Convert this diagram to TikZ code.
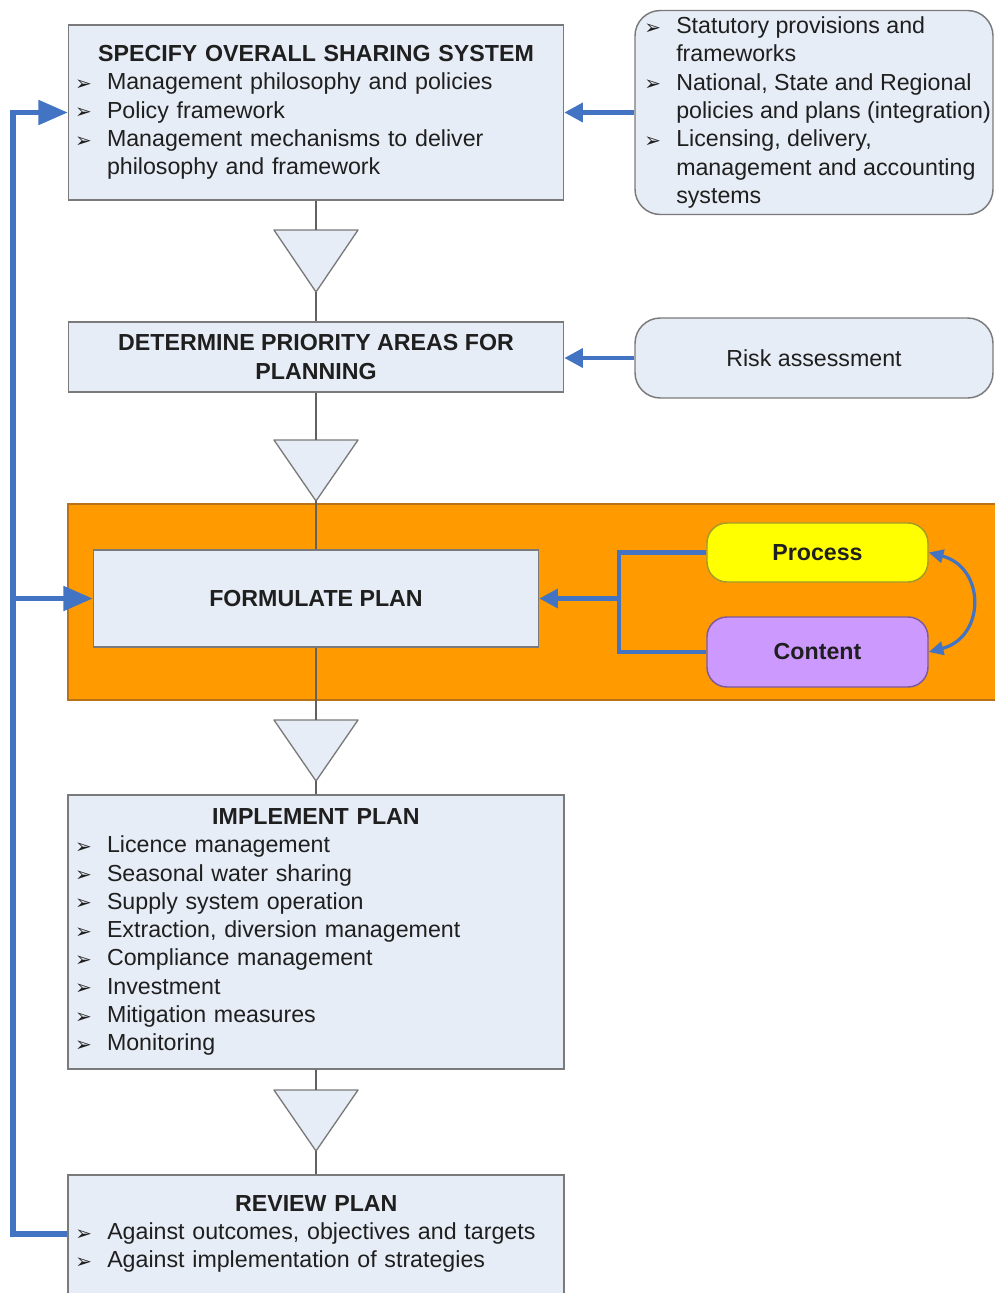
\documentclass[tikz,border=0pt]{standalone}
\usepackage{fontspec}
\setmainfont{Liberation Sans}
\newfontfamily\dvfont{DejaVu Sans}
\usetikzlibrary{arrows.meta,calc}
\newlength\upx \setlength\upx{0.75pt}
\definecolor{boxfill}{HTML}{E7EDF6}
\definecolor{boxline}{HTML}{7A7A7A}
\definecolor{flowblue}{HTML}{4374C3}
\definecolor{bandorange}{HTML}{FF9A00}
\definecolor{bandline}{HTML}{B87319}
\definecolor{txt}{HTML}{1F1F1F}
\definecolor{procyellow}{HTML}{FFFF00}
\definecolor{procline}{HTML}{A39B2A}
\definecolor{contviolet}{HTML}{CC99FF}
\definecolor{contline}{HTML}{7D5A9E}
\newcommand\bul{\makebox[24pt][l]{\dvfont\fontsize{15}{15}\selectfont\raisebox{-0.5pt}{➢}}}
\newcommand\ind{\makebox[24pt]{}}
\begin{document}
\begin{tikzpicture}[x=0.75pt,y=-0.75pt,
  every node/.style={font=\fontsize{17.4}{21.2}\selectfont, text=txt},
  bf/.style={font=\fontsize{17.4}{21.2}\selectfont\bfseries},
  box/.style={draw=boxline, fill=boxfill, line width=1.1pt, inner sep=0pt},
  rbox/.style={box, rounded corners=19pt},
  pill/.style={line width=1.1pt, rounded corners=15pt, inner sep=0pt, minimum width=221\upx, bf},
  tri/.style={draw=boxline, fill=boxfill, line width=1pt, line join=round},
  conn/.style={draw=black!62, line width=0.9pt},
  feed/.style={draw=flowblue, line width=3.8pt},
  feedarrow/.style={feed, -{Triangle[length=22pt,width=18pt]}},
  inarrow/.style={draw=flowblue, line width=3.4pt, -{Triangle[length=14pt,width=14pt]}},
  cycarrow/.style={draw=flowblue, line width=2.4pt, {Triangle[length=11pt,width=10pt]}-{Triangle[length=11pt,width=10pt]}}
]
\useasboundingbox (0,0) rectangle (995,1293);
\clip (0,0) rectangle (995,1293);

% orange band
\node[draw=bandline, fill=bandorange, line width=1pt, minimum width=932\upx, minimum height=196\upx, inner sep=0pt] (band) at (534,602) {};

% boxes
\node[box, minimum width=495\upx, minimum height=175\upx, text width=482\upx, align=left] (spec) at (316,112.5)
 {\makebox[482\upx][c]{\bfseries SPECIFY OVERALL SHARING SYSTEM}\\
  \bul Management philosophy and policies\\
  \bul Policy framework\\
  \bul Management mechanisms to deliver\\
  \ind philosophy and framework};

\node[rbox, minimum width=358\upx, minimum height=204\upx] (stat) at (814,112.5) {};
\node[anchor=west, align=left, inner sep=0pt] (statt) at (644,112.5)
 {\bul Statutory provisions and\\
  \ind frameworks\\
  \bul National, State and Regional\\
  \ind policies and plans (integration)\\
  \bul Licensing, delivery,\\
  \ind management and accounting\\
  \ind systems};

\node[box, bf, minimum width=495\upx, minimum height=70\upx, align=center] (det) at (316,357) {DETERMINE PRIORITY AREAS FOR\\PLANNING};
\node[rbox, minimum width=358\upx, minimum height=80\upx] (risk) at (814,358) {Risk assessment};

\node[box, bf, minimum width=445\upx, minimum height=97\upx] (form) at (316,598.5) {FORMULATE PLAN};
\node[pill, draw=procline, fill=procyellow, minimum height=59\upx] (proc) at (817.5,552.5) {Process};
\node[pill, draw=contline, fill=contviolet, minimum height=70\upx] (cont) at (817.5,652) {Content};

\node[box, minimum width=496\upx, minimum height=274\upx, text width=482\upx, align=left] (impl) at (316,932)
 {\makebox[482\upx][c]{\bfseries IMPLEMENT PLAN}\\
  \bul Licence management\\
  \bul Seasonal water sharing\\
  \bul Supply system operation\\
  \bul Extraction, diversion management\\
  \bul Compliance management\\
  \bul Investment\\
  \bul Mitigation measures\\
  \bul Monitoring};

\node[box, minimum width=496\upx, minimum height=124\upx] (rev) at (316,1237) {};
\node[anchor=west, text width=482\upx, align=left, inner sep=0pt] (revt) at (75,1234)
 {\makebox[482\upx][c]{\bfseries REVIEW PLAN}\\
  \bul Against outcomes, objectives and targets\\
  \bul Against implementation of strategies};

% flow triangles
\coordinate (t1top) at (316,230); \coordinate (t1tip) at (316,292);
\coordinate (t2top) at (316,440); \coordinate (t2tip) at (316,501);
\coordinate (t3top) at (316,720); \coordinate (t3tip) at (316,781);
\coordinate (t4top) at (316,1090); \coordinate (t4tip) at (316,1151);
\foreach \t in {t1,t2,t3,t4}{
  \draw[tri] ($(\t top)+(-42,0)$) -- ($(\t top)+(42,0)$) -- (\t tip) -- cycle;
}

% thin connectors
\draw[conn] (spec.south) -- (t1top);
\draw[conn] (t1tip) -- (det.north);
\draw[conn] (det.south) -- (t2top);
\draw[conn] (t2tip) -- (form.north);
\draw[conn] (form.south) -- (t3top);
\draw[conn] (t3tip) -- (impl.north);
\draw[conn] (impl.south) -- (t4top);
\draw[conn] (t4tip) -- (rev.north);

% inputs from right
\draw[inarrow] (stat.west) -- (stat.west -| spec.east);
\draw[inarrow] (risk.west) -- (risk.west -| det.east);

% process/content bracket
\coordinate (brk) at (619,598.5);
\draw[feed, line width=3.2pt] (proc.west) -- (proc.west -| brk) -- (cont.west -| brk) -- (cont.west);
\draw[inarrow] (brk) -- (form.east);
\draw[cycarrow] (proc.east) .. controls +(57,15) and +(57,-15) .. (cont.east);

% feedback loop
\coordinate (ftop) at (13,112.5);
\coordinate (fmid) at (13,598.5);
\coordinate (fbot) at (rev.west |- revt.west);
\draw[feedarrow] (fbot) -| (ftop) -- (spec.west);
\draw[feedarrow] (fmid) -- (form.west);
\end{tikzpicture}
\end{document}
